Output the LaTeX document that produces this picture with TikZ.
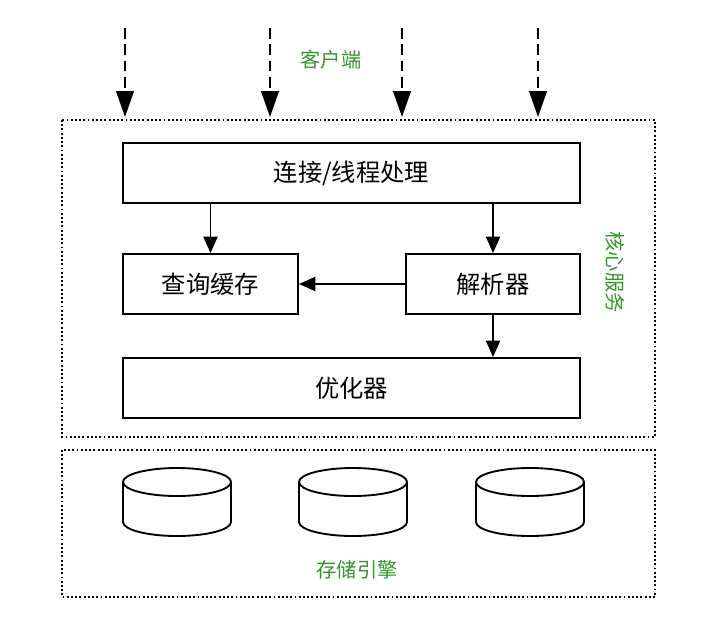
\documentclass[tikz,border=0pt]{standalone}
\usepackage{fontspec}
\setmainfont{Noto Sans CJK SC}
\usetikzlibrary{positioning, arrows.meta}
\definecolor{labelgreen}{RGB}{50,150,40}
\tikzset{
    block/.style = {draw, line width=1.6pt, minimum height=1.8cm, font=\huge},
    group/.style = {draw, dotted, line width=1.6pt},
    flow/.style = {-{Triangle[length=14pt,width=12pt]}, line width=1.6pt},
    client/.style = {flow, dash pattern=on 9pt off 5pt, -{Triangle[length=22pt,width=15pt]}},
    tag/.style = {text=labelgreen, font=\LARGE},
    disk/.style = {draw, line width=1.6pt},
}
\begin{document}
\begin{tikzpicture}[x=0.03cm, y=-0.03cm]
    \useasboundingbox (0,0) rectangle (710,620);

    \draw[group] (62,120) rectangle (655,437);
    \draw[group] (62,450) rectangle (655,597);

    \node[block, minimum width=13.7cm] (conn) at (351.5,173) {连接/线程处理};
    \node[block, minimum width=5.25cm] (cache) at (210.5,284) {查询缓存};
    \node[block, minimum width=5.2cm] (parser) at (493,284) {解析器};
    \node[block, minimum width=13.7cm] (opt) at (351.5,388) {优化器};

    \draw[flow] (conn.south -| cache) -- (cache);
    \draw[flow] (conn.south -| parser) -- (parser);
    \draw[flow] (parser) -- (cache);
    \draw[flow] (parser) -- (opt.north -| parser);

    % clients
    \foreach \x [count=\i] in {125, 270, 402, 538} {
        \coordinate (c\i) at (\x,28);
        \coordinate (e\i) at (\x,117);
        \draw[client] (c\i) -- (e\i);
    }
    \node[tag] (clients) at (331,60) {客户端};
    \node[tag, rotate=-90] (core) at (615,272) {核心服务};

    % storage
    \foreach \x [count=\i] in {177, 353, 530} {
        \draw[disk] (\x-54,482) -- (\x-54,522) arc[start angle=180, end angle=360, x radius=54, y radius=-14] -- (\x+54,482);
        \draw[disk] (\x,482) ellipse[x radius=54, y radius=14];
    }
    \node[tag] (engine) at (357,570) {存储引擎};
\end{tikzpicture}
\end{document}
